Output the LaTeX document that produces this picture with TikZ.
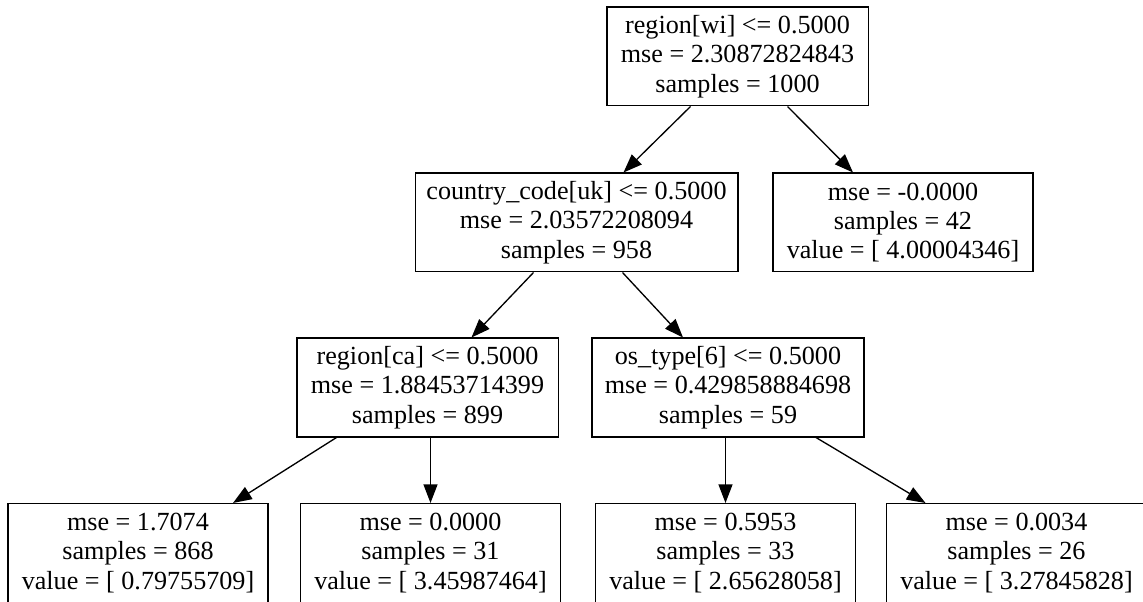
\documentclass[tikz,border=0pt]{standalone}
\usepackage{fontspec}
\setmainfont{Liberation Serif}
\usetikzlibrary{arrows.meta,calc}
\begin{document}
\begin{tikzpicture}[x=0.75pt,y=-0.75pt,
	treebox/.style={draw,line width=1pt,align=center,inner sep=0pt,minimum height=74pt,font=\fontsize{19.6}{22}\selectfont},
	treeedge/.style={line width=1pt,-{Triangle[length=14pt,width=10.5pt]}}]
			\useasboundingbox (0,0) rectangle (1143,602);
			
			\node[treebox,minimum width=196pt] (root) at (737.5,56.5) {region[wi] <= 0.5000\\mse = 2.30872824843\\samples = 1000};
			\node[treebox,minimum width=242pt] (cc) at (576.5,222.5) {country\_code[uk] <= 0.5000\\mse = 2.03572208094\\samples = 958};
			\node[treebox,minimum width=195pt] (wi) at (903,222.5) {mse = -0.0000\\samples = 42\\value = [ 4.00004346]};
			\node[treebox,minimum width=196pt] (ca) at (427.5,387.5) {region[ca] <= 0.5000\\mse = 1.88453714399\\samples = 899};
			\node[treebox,minimum width=204pt] (os) at (728,387.5) {os\_type[6] <= 0.5000\\mse = 0.429858884698\\samples = 59};
			\node[treebox,minimum width=195pt] (l1) at (138,553) {mse = 1.7074\\samples = 868\\value = [ 0.79755709]};
			\node[treebox,minimum width=195pt] (l2) at (430.5,553) {mse = 0.0000\\samples = 31\\value = [ 3.45987464]};
			\node[treebox,minimum width=195pt] (l3) at (725.5,553) {mse = 0.5953\\samples = 33\\value = [ 2.65628058]};
			\node[treebox,minimum width=195pt] (l4) at (1016.5,553) {mse = 0.0034\\samples = 26\\value = [ 3.27845828]};
			
			\draw[treeedge] ($(root.south)+(-47,0)$) -- ($(cc.north)+(47,0)$);
			\draw[treeedge] ($(root.south)+(50,0)$) -- ($(wi.north)+(-50,0)$);
			\draw[treeedge] ($(cc.south)+(-43,0)$) -- ($(ca.north)+(44,0)$);
			\draw[treeedge] ($(cc.south)+(46,0)$) -- ($(os.north)+(-45,0)$);
			\draw[treeedge] ($(ca.south)+(-91,0)$) -- ($(l1.north)+(95,0)$);
			\draw[treeedge] (ca.south -| l2.north) -- (l2.north);
			\draw[treeedge] (os.south -| l3.north) -- (l3.north);
			\draw[treeedge] ($(os.south)+(88,0)$) -- ($(l4.north)+(-91,0)$);
		\end{tikzpicture}
\end{document}
